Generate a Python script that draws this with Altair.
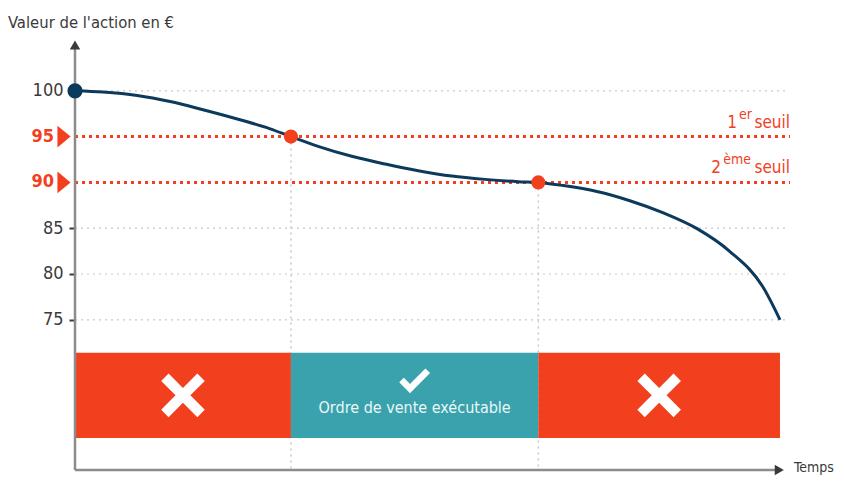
import altair as alt
import pandas as pd

# ---------------- data ----------------
time = [0, 3.9, 8.7, 13.3, 17.9, 22.7, 27.3, 30.2, 34.0, 38.7, 43.4, 48.0, 52.7, 57.3, 62.0, 64.8,
        68.3, 73.0, 77.6, 82.2, 87.0, 91.6, 96.2, 98.6]
value = [100, 99.86, 99.49, 98.83, 97.93, 96.92, 95.85, 95.0, 93.94, 92.85, 92.0, 91.28, 90.69, 90.33, 90.08, 90.0,
         89.65, 89.0, 88.0, 86.7, 84.95, 82.45, 78.6, 75.0]

tick_values = [75, 80, 85, 100]
seuil_values = [95, 90]
seuil_times = [30.2, 64.8]
seuil_num = ["1", "2"]
seuil_sup = ["er", "ème"]
seuil_word = ["seuil", "seuil"]

band_start = [0, 30.2, 64.8]
band_end = [30.2, 64.8, 98.6]
band_ok = [False, True, False]
band_text = ["", "Ordre de vente exécutable", ""]

Y_MIN, Y_MAX = 58.6, 105
X_MIN, X_MAX = 0, 100
AXIS_END = 98.5
GRID_END = 99.3
BAND_TOP, BAND_BOTTOM = 71.4, 62.1

FONT = "DejaVu Sans Condensed, Liberation Sans Narrow, Roboto Condensed, Roboto, sans-serif"
RED = "#f2401f"
NAVY = "#0c3a5c"
TEAL = "#3aa2ad"
DARK = "#3a3a3a"

xs = alt.Scale(domain=[X_MIN, X_MAX], nice=False, zero=False)
ys = alt.Scale(domain=[Y_MIN, Y_MAX], nice=False, zero=False)
yaxis = alt.Axis(
    values=tick_values, domain=False, grid=False, title=None,
    tickColor=DARK, tickSize=6, tickWidth=2, labelFontSize=18,
    labelColor=DARK, labelFont=FONT, labelPadding=6)


def X(f, **kw):
    return alt.X(f, type="quantitative", scale=xs, axis=None, **kw)


def Y(f, **kw):
    return alt.Y(f, type="quantitative", scale=ys, axis=yaxis, **kw)


curve = pd.DataFrame({"t": time, "v": value})
grid = pd.DataFrame({"v": tick_values, "x0": X_MIN, "x1": GRID_END})
seuils = pd.DataFrame({
    "v": seuil_values, "t": seuil_times, "num": seuil_num, "sup": seuil_sup,
    "word": seuil_word, "x0": X_MIN, "x1": X_MAX, "ymin": Y_MIN, "idx": [0, 1],
})
bands = pd.DataFrame({"s": band_start, "e": band_end, "ok": band_ok, "label": band_text})
bands["mid"] = (bands["s"] + bands["e"]) / 2
bands["top"] = BAND_TOP
bands["bot"] = BAND_BOTTOM
bands["ymid"] = (BAND_TOP + BAND_BOTTOM) / 2
axes_df = pd.DataFrame({"x0": [X_MIN], "x1": [AXIS_END], "xe": [X_MAX], "y0": [Y_MIN], "y1": [Y_MAX]})
start_df = curve.iloc[[0]]

grid_layer = alt.Chart(grid).mark_rule(color="#c8c8c8", strokeWidth=1.2, strokeDash=[2, 4]).encode(
    x=X("x0:Q"), x2="x1:Q", y=Y("v:Q"))

red_lines = alt.Chart(seuils).mark_rule(color=RED, strokeWidth=3, strokeDash=[3, 4]).encode(
    x=X("x0:Q"), x2="x1:Q", y=Y("v:Q"))

vert_lines = alt.Chart(seuils).mark_rule(color="#c8c8c8", strokeWidth=1.5, strokeDash=[2, 4]).encode(
    x=X("t:Q"), y=Y("v:Q"), y2="ymin:Q")

y_axis_line = alt.Chart(axes_df).mark_rule(color="#8c8c8c", strokeWidth=2.5).encode(
    x=X("x0:Q"), y=Y("y0:Q"), y2="y1:Q")
x_axis_line = alt.Chart(axes_df).mark_rule(color="#8c8c8c", strokeWidth=2.5).encode(
    x=X("x0:Q"), x2="x1:Q", y=Y("y0:Q"))

up_arrow = alt.Chart(axes_df).mark_point(shape="triangle-up", filled=True, color=DARK, size=110, opacity=1).encode(
    x=X("x0:Q"), y=Y("y1:Q"))
right_arrow = alt.Chart(axes_df).mark_point(shape="triangle-right", filled=True, color=DARK, size=110, opacity=1).encode(
    x=X("x1:Q"), y=Y("y0:Q"))

band_rects = alt.Chart(bands).mark_rect().encode(
    x=X("s:Q"), x2="e:Q", y=Y("top:Q"), y2="bot:Q",
    color=alt.Color("ok:N", scale=alt.Scale(domain=[False, True], range=[RED, TEAL]), legend=None),
)

X_PATH = ("M -1 -0.66 L -0.66 -1 L 0 -0.34 L 0.66 -1 L 1 -0.66 L 0.34 0 "
          "L 1 0.66 L 0.66 1 L 0 0.34 L -0.66 1 L -1 0.66 L -0.34 0 Z")
CHECK_PATH = "M -1 0 L -0.7 -0.3 L -0.3 0.1 L 0.7 -0.9 L 1 -0.6 L -0.3 0.7 Z"

crosses = alt.Chart(bands).transform_filter("!datum.ok").mark_point(
    shape=X_PATH, filled=True, color="white", size=1900, opacity=1, strokeWidth=0).encode(
    x=X("mid:Q"), y=Y("ymid:Q"))
checks = alt.Chart(bands).transform_filter("datum.ok").mark_point(
    shape=CHECK_PATH, filled=True, color="white", size=950, opacity=1, strokeWidth=0, yOffset=-13).encode(
    x=X("mid:Q"), y=Y("ymid:Q"))
ok_text = alt.Chart(bands).transform_filter("datum.ok").mark_text(
    font=FONT, fontSize=16, color="#eaf8f8", dy=13, baseline="middle", align="center").encode(
    x=X("mid:Q"), y=Y("ymid:Q"), text="label:N")

line = alt.Chart(curve).mark_line(color=NAVY, strokeWidth=3, interpolate="monotone").encode(
    x=X("t:Q"), y=Y("v:Q"))

start_dot = alt.Chart(start_df).mark_circle(color=NAVY, size=230, opacity=1).encode(
    x=X("t:Q"), y=Y("v:Q"))
seuil_dots = alt.Chart(seuils).mark_circle(color=RED, size=200, opacity=1).encode(
    x=X("t:Q"), y=Y("v:Q"))

red_labels = alt.Chart(seuils).mark_text(
    font=FONT, fontSize=18, fontWeight="bold", color=RED, align="right", baseline="middle", dx=-21).encode(
    x=X("x0:Q"), y=Y("v:Q"), text=alt.Text("v:Q"))
TRI_PATH = "M -0.6 -1 L 0.6 0 L -0.6 1 Z"
red_tri = alt.Chart(seuils).mark_point(
    shape=TRI_PATH, filled=True, color=RED, size=480, opacity=1, strokeWidth=0, xOffset=-11).encode(
    x=X("x0:Q"), y=Y("v:Q"))

seuil_word_txt = alt.Chart(seuils).mark_text(
    font=FONT, fontSize=17, color=RED, align="right", baseline="alphabetic", dy=-9).encode(
    x=X("x1:Q"), y=Y("v:Q"), text="word:N")
sup1 = alt.Chart(seuils).transform_filter("datum.idx == 0").mark_text(
    font=FONT, fontSize=14, color=RED, align="right", baseline="alphabetic", dx=-38, dy=-18).encode(
    x=X("x1:Q"), y=Y("v:Q"), text="sup:N")
sup2 = alt.Chart(seuils).transform_filter("datum.idx == 1").mark_text(
    font=FONT, fontSize=14, color=RED, align="right", baseline="alphabetic", dx=-39, dy=-18).encode(
    x=X("x1:Q"), y=Y("v:Q"), text="sup:N")
num1 = alt.Chart(seuils).transform_filter("datum.idx == 0").mark_text(
    font=FONT, fontSize=17, color=RED, align="right", baseline="alphabetic", dx=-53, dy=-9).encode(
    x=X("x1:Q"), y=Y("v:Q"), text="num:N")
num2 = alt.Chart(seuils).transform_filter("datum.idx == 1").mark_text(
    font=FONT, fontSize=17, color=RED, align="right", baseline="alphabetic", dx=-69, dy=-9).encode(
    x=X("x1:Q"), y=Y("v:Q"), text="num:N")

temps = alt.Chart(axes_df).mark_text(
    font=FONT, fontSize=14, color=DARK, align="left", baseline="middle", dx=4, dy=-2, text="Temps").encode(
    x=X("xe:Q"), y=Y("y0:Q"))
title = alt.Chart(axes_df).mark_text(
    font=FONT, fontSize=16.5, color=DARK, align="left", baseline="alphabetic", dx=-67, dy=-17,
    text="Valeur de l'action en €").encode(
    x=X("x0:Q"), y=Y("y1:Q"))

chart = alt.layer(
    grid_layer, vert_lines, red_lines, band_rects, crosses, checks, ok_text,
    y_axis_line, x_axis_line, up_arrow, right_arrow,
    line, start_dot, seuil_dots, red_labels, red_tri,
    seuil_word_txt, sup1, sup2, num1, num2, temps, title,
).properties(
    width=715, height=425,
    autosize=alt.AutoSizeParams(type="none"),
    padding={"left": 67, "top": 37, "right": 46, "bottom": 9},
).configure_view(stroke=None)

chart.save("out.html", embed_options={"renderer": "svg", "actions": False})
